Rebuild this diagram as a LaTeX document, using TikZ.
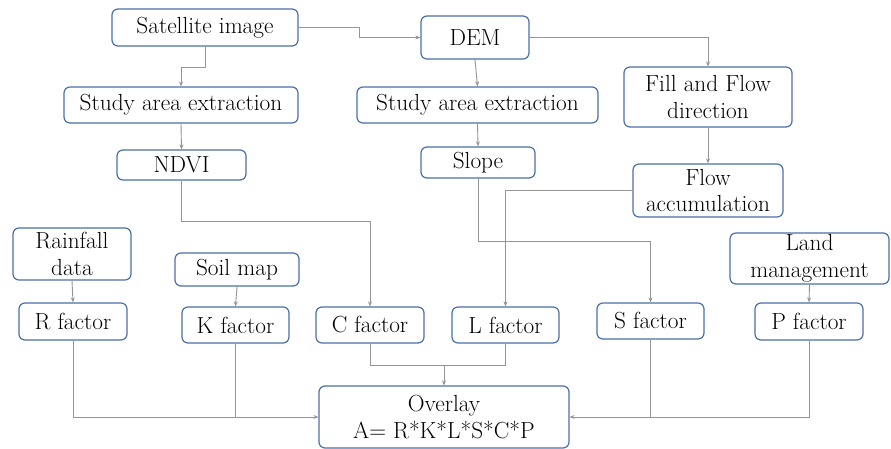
\documentclass[tikz,border=0pt]{standalone}
\usepackage{fontspec}
\usetikzlibrary{arrows.meta,calc}
\definecolor{bord}{HTML}{4A70A8}
\definecolor{conn}{HTML}{959595}
\begin{document}
\begin{tikzpicture}[x=1pt,y=-1pt,
  box/.style={draw=bord,line width=1.2pt,rounded corners=6pt,fill=white,
    inner sep=0pt,align=center,font=\fontsize{23.3}{26.5}\selectfont},
  cn/.style={draw=conn,line width=0.9pt},
  ar/.style={cn,-{Stealth[length=5pt,width=4pt]}}]
\fill[white] (0,0) rectangle (891,449);
\useasboundingbox (0,0) rectangle (891,449);
\node[box,minimum width=186pt,minimum height=37pt] (sat) at (205,27.5) {Satellite image};
\node[box,minimum width=108pt,minimum height=43pt] (dem) at (475,37.5) {DEM};
\node[box,minimum width=234pt,minimum height=36pt] (sa1) at (181,105) {Study area extraction};
\node[box,minimum width=241pt,minimum height=36pt] (sa2) at (477.5,105) {Study area extraction};
\node[box,minimum width=168pt,minimum height=60pt] (fill) at (708,97) {Fill and Flow\\direction};
\node[box,minimum width=129pt,minimum height=30pt] (ndvi) at (181.5,165) {NDVI};
\node[box,minimum width=114pt,minimum height=31pt] (slope) at (478,162.5) {Slope};
\node[box,minimum width=150pt,minimum height=53pt] (flow) at (708,190.5) {Flow\\accumulation};
\node[box,minimum width=118pt,minimum height=52pt] (rain) at (72,254) {Rainfall\\data};
\node[box,minimum width=124pt,minimum height=33pt] (soil) at (237,269.5) {Soil map};
\node[box,minimum width=108pt,minimum height=37pt] (R) at (73,321.5) {R factor};
\node[box,minimum width=107pt,minimum height=36pt] (K) at (235.5,325) {K factor};
\node[box,minimum width=108pt,minimum height=36pt] (C) at (370,325) {C factor};
\node[box,minimum width=107pt,minimum height=36pt] (L) at (505.5,325) {L factor};
\node[box,minimum width=107pt,minimum height=36pt] (S) at (650.5,321) {S factor};
\node[box,minimum width=159pt,minimum height=51pt] (land) at (809.5,258.5) {Land\\management};
\node[box,minimum width=108pt,minimum height=37pt] (P) at (809,321.5) {P factor};
\node[box,minimum width=250pt,minimum height=62pt] (ov) at (444,417) {Overlay\\A= R*K*L*S*C*P};
\coordinate (j1) at (444,365);
% connectors
\draw[ar] (sat.south) -- ++(0,20.5) -| (sa1.north);
\draw[ar] (sat.east) -- ++(61,0) |- (dem.west);
\draw[ar] (dem.south) -- (sa2.north);
\draw[ar] (dem.east) -| (fill.north);
\draw[ar] (sa1.south) -- (ndvi.north);
\draw[ar] (sa2.south) -- (slope.north);
\draw[ar] (fill.south) -- (flow.north);
\draw[ar] (ndvi.south) -- ++(0,41) -| (C.north);
\draw[ar] (slope.south) -- ++(0,63) -| (S.north);
\draw[ar] (flow.west) -| (L.north);
\draw[ar] (rain.south) -- (R.north);
\draw[ar] (soil.south) -- (K.north);
\draw[ar] (land.south) -- (P.north);
\draw[cn] (C.south) |- (j1);
\draw[cn] (L.south) |- (j1);
\draw[ar] (j1) -- (ov.north);
\draw[ar] (R.south) |- (ov.west);
\draw[cn] (K.south) -- (K.south |- ov.west);
\draw[ar] (P.south) |- (ov.east);
\draw[cn] (S.south) -- (S.south |- ov.east);
\end{tikzpicture}
\end{document}
